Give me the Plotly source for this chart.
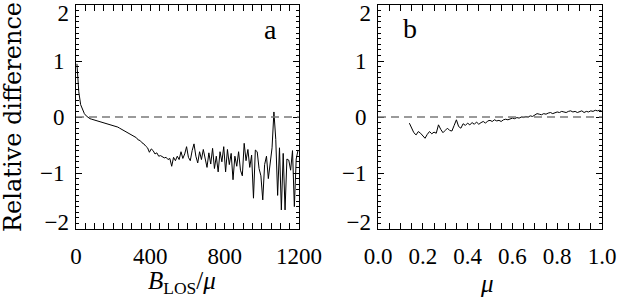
import plotly.graph_objects as go

# Panel a: relative difference vs B_LOS/mu (bin centres)
blos = [5, 15, 25, 35, 45, 55, 65, 75, 85, 95, 105, 115, 125, 135, 145, 155, 165, 175, 185, 195,
        205, 215, 225, 235, 245, 255, 265, 275, 285, 295, 305, 315, 325, 335, 345, 355, 365, 375, 385, 395,
        405, 415, 425, 435, 445, 455, 465, 475, 485, 495, 505, 515, 525, 535, 545, 555, 565, 575, 585, 595,
        605, 615, 625, 635, 645, 655, 665, 675, 685, 695, 705, 715, 725, 735, 745, 755, 765, 775, 785, 795,
        805, 815, 825, 835, 845, 855, 865, 875, 885, 895, 905, 915, 925, 935, 945, 955, 965, 975, 985, 995,
        1005, 1015, 1025, 1035, 1045, 1055, 1065, 1075, 1085, 1095, 1105, 1115, 1125, 1135, 1145, 1155, 1165, 1175, 1185, 1195]
diff_a = [0.95, 0.45, 0.22, 0.12, 0.06, 0.02, -0.01, -0.03, -0.04, -0.05, -0.06, -0.07, -0.08, -0.08, -0.09, -0.10, -0.11, -0.12, -0.13, -0.14,
          -0.15, -0.17, -0.18, -0.20, -0.22, -0.24, -0.25, -0.28, -0.30, -0.31, -0.34, -0.36, -0.37, -0.41, -0.42, -0.46, -0.48, -0.52, -0.55, -0.63,
          -0.57, -0.60, -0.66, -0.64, -0.70, -0.69, -0.71, -0.73, -0.72, -0.76, -0.74, -0.88, -0.72, -0.78, -0.70, -0.76, -0.62, -0.74, -0.66, -0.53,
          -0.72, -0.78, -0.60, -0.48, -0.70, -0.82, -0.62, -0.76, -0.58, -0.78, -0.90, -0.64, -0.84, -0.56, -0.92, -0.70, -0.98, -0.62, -0.80, -0.53,
          -0.98, -0.58, -0.85, -0.65, -1.12, -0.70, -0.88, -0.62, -0.95, -1.05, -0.47, -0.78, -0.58, -0.90, -0.68, -1.45, -0.59, -0.62, -0.92, -1.05,
          -1.48, -0.85, -0.70, -1.10, -0.80, -0.55, 0.09, -0.40, -1.40, -0.55, -1.66, -0.65, -1.66, -0.75, -0.77, -0.95, -0.60, -1.60, -0.75, -0.59]

# Panel b: relative difference vs mu
mu = [0.14, 0.15, 0.16, 0.17, 0.18, 0.19, 0.20, 0.21, 0.22, 0.23, 0.24, 0.25, 0.26, 0.27, 0.28, 0.29,
      0.30, 0.31, 0.32, 0.33, 0.34, 0.35, 0.36, 0.37, 0.38, 0.39, 0.40, 0.41, 0.42, 0.43, 0.44, 0.45,
      0.46, 0.47, 0.48, 0.49, 0.50, 0.51, 0.52, 0.53, 0.54, 0.55, 0.56, 0.57, 0.58, 0.59, 0.60, 0.61,
      0.62, 0.63, 0.64, 0.65, 0.66, 0.67, 0.68, 0.69, 0.70, 0.71, 0.72, 0.73, 0.74, 0.75, 0.76, 0.77,
      0.78, 0.79, 0.80, 0.81, 0.82, 0.83, 0.84, 0.85, 0.86, 0.87, 0.88, 0.89, 0.90, 0.91, 0.92, 0.93,
      0.94, 0.95, 0.96, 0.97, 0.98, 0.99, 1.00]
diff_b = [-0.11, -0.20, -0.28, -0.32, -0.26, -0.29, -0.33, -0.38, -0.31, -0.26, -0.30, -0.27, -0.29, -0.14, -0.22, -0.28,
          -0.24, -0.20, -0.24, -0.25, -0.15, -0.05, -0.17, -0.20, -0.12, -0.15, -0.11, -0.14, -0.10, -0.13, -0.09, -0.13,
          -0.10, -0.08, -0.11, -0.07, -0.06, -0.08, -0.05, -0.07, -0.06, -0.08, -0.05, -0.04, -0.05, -0.03, -0.02, -0.03,
          -0.01, -0.02, 0.00, -0.01, 0.01, 0.00, 0.02, 0.01, 0.04, 0.06, 0.05, 0.04, 0.06, 0.05, 0.07, 0.08,
          0.06, 0.08, 0.09, 0.08, 0.10, 0.09, 0.08, 0.10, 0.11, 0.09, 0.10, 0.08, 0.09, 0.11, 0.08, 0.10,
          0.09, 0.11, 0.10, 0.12, 0.11, 0.12, 0.10]

xa_ticks = [0, 400, 800, 1200]
xb_ticks = [0.0, 0.2, 0.4, 0.6, 0.8, 1.0]
y_ticks = [-2, -1, 0, 1, 2]
y_tick_text = ["", "\u22121", "0", "1", ""]
# the end labels sit slightly inside the frame, as in the original
y_end_label_pos = [-1.87, 1.86]
y_end_label_text = ["\u22122", "2"]
xb_tick_text = ["0.0", "0.2", "0.4", "0.6", "0.8", "1.0"]

W, H = 618, 297
tick_font = dict(family="Liberation Serif", size=23, color="black")

fig = go.Figure()
fig.add_trace(go.Scatter(x=blos, y=diff_a, mode="lines", line=dict(color="black", width=1),
                         xaxis="x", yaxis="y", showlegend=False, hoverinfo="skip"))
fig.add_trace(go.Scatter(x=mu, y=diff_b, mode="lines", line=dict(color="black", width=1),
                         xaxis="x2", yaxis="y2", showlegend=False, hoverinfo="skip"))

for xr, yr in (("x", "y"), ("x2", "y2")):
    fig.add_shape(type="line", xref=xr + " domain", yref=yr, x0=0, x1=1, y0=0, y1=0,
                  line=dict(color="#7a7a7a", width=1.3, dash="8px,5px"))

common_axis = dict(showline=True, linecolor="black", linewidth=1, mirror="allticks",
                   ticks="inside", ticklen=6, tickwidth=1, tickcolor="black",
                   showgrid=False, zeroline=False, tickfont=tick_font,
                   ticklabeloverflow="allow", automargin=False, fixedrange=True)
label_axis = dict(showline=False, ticks="", showgrid=False, zeroline=False, tickfont=tick_font,
                  ticklabeloverflow="allow", automargin=False, range=[-2, 2],
                  tickvals=y_end_label_pos, ticktext=y_end_label_text, ticklabelstandoff=6,
                  fixedrange=True)

ydom = [1 - 229 / H, 1 - 5 / H]
fig.update_layout(
    width=W, height=H, margin=dict(l=0, r=0, t=0, b=0, autoexpand=False),
    paper_bgcolor="white", plot_bgcolor="white",
    xaxis=dict(domain=[76 / W, 299 / W], range=[0, 1200], tickvals=xa_ticks,
               minor=dict(dtick=50, ticklen=3, ticks="inside", tickcolor="black"),
               anchor="y", ticklabelstandoff=6, **common_axis),
    yaxis=dict(domain=ydom, range=[-2, 2], tickvals=y_ticks, ticktext=y_tick_text,
               minor=dict(dtick=0.1, ticklen=3, ticks="inside", tickcolor="black"),
               anchor="x", ticklabelstandoff=6, **common_axis),
    xaxis2=dict(domain=[378 / W, 602 / W], range=[0, 1], tickvals=xb_ticks, ticktext=xb_tick_text,
                minor=dict(dtick=0.05, ticklen=3, ticks="inside", tickcolor="black"),
                anchor="y2", ticklabelstandoff=6, **common_axis),
    yaxis2=dict(domain=ydom, range=[-2, 2], tickvals=y_ticks, ticktext=y_tick_text,
                minor=dict(dtick=0.1, ticklen=3, ticks="inside", tickcolor="black"),
                anchor="x2", ticklabelstandoff=6, **common_axis),
    yaxis3=dict(domain=ydom, anchor="x", overlaying="y", side="left", **label_axis),
    yaxis4=dict(domain=ydom, anchor="x2", overlaying="y2", side="left", **label_axis),
)
# invisible carriers so the label axes are drawn
fig.add_trace(go.Scatter(x=[None], y=[None], xaxis="x", yaxis="y3", showlegend=False, hoverinfo="skip"))
fig.add_trace(go.Scatter(x=[None], y=[None], xaxis="x2", yaxis="y4", showlegend=False, hoverinfo="skip"))

fig.add_annotation(text="Relative difference", xref="paper", yref="paper",
                   x=13 / W, y=1 - 117 / H, textangle=-90, showarrow=False,
                   xanchor="center", yanchor="middle",
                   font=dict(family="DejaVu Serif", size=24, color="black"))
fig.add_annotation(text="<i>B</i><sub>LOS</sub>/<i>\u03bc</i>", xref="paper", yref="paper",
                   x=182 / W, y=1 - 282 / H, showarrow=False, xanchor="center", yanchor="middle",
                   font=dict(family="Liberation Serif", size=25, color="black"))
fig.add_annotation(text="<i>\u03bc</i>", xref="paper", yref="paper",
                   x=487 / W, y=1 - 283 / H, showarrow=False, xanchor="center", yanchor="middle",
                   font=dict(family="Liberation Serif", size=25, color="black"))
fig.add_annotation(text="a", xref="paper", yref="paper", x=270 / W, y=1 - 29 / H,
                   showarrow=False, xanchor="center", yanchor="middle",
                   font=dict(family="Liberation Serif", size=28, color="black"))
fig.add_annotation(text="b", xref="paper", yref="paper", x=410 / W, y=1 - 28 / H,
                   showarrow=False, xanchor="center", yanchor="middle",
                   font=dict(family="Liberation Serif", size=28, color="black"))

fig.write_html("out.html", config={"displayModeBar": False, "staticPlot": True},
               post_script="document.body.style.margin='0';document.body.style.padding='0';"
                           "document.documentElement.style.overflow='hidden';")
